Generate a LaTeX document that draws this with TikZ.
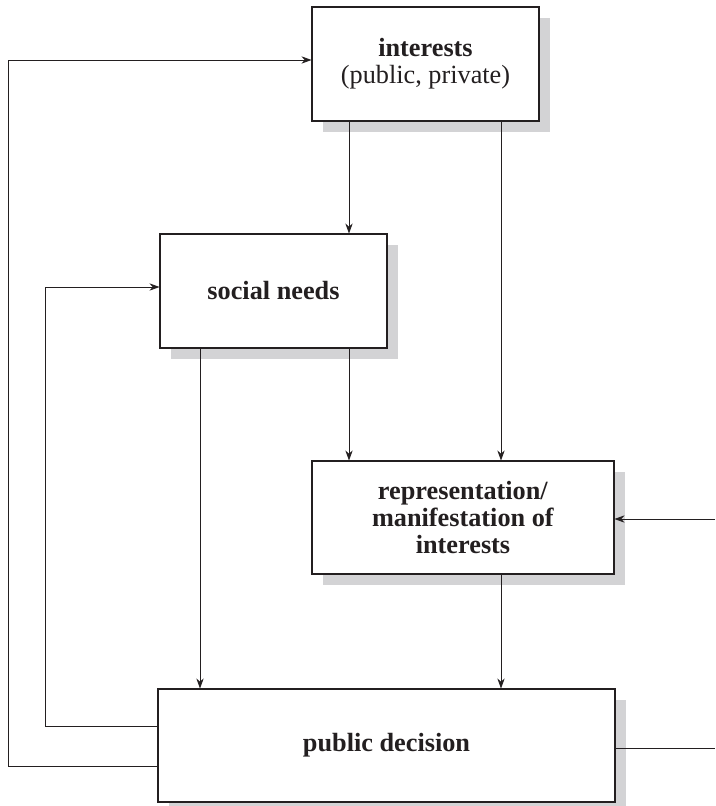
\documentclass[tikz,border=0pt]{standalone}
\usepackage{fontspec}
\setmainfont{Liberation Serif}
\usetikzlibrary{arrows.meta,shadows}
\definecolor{shade}{RGB}{211,211,213}
\definecolor{ink}{RGB}{35,31,32}
\begin{document}
\begin{tikzpicture}[x=0.75pt,y=-0.75pt,
  box/.style={draw=ink, line width=0.8pt, fill=white, align=center, text=ink,
    font=\fontsize{19.7}{20.5}\selectfont,
    general shadow={fill=shade, shadow xshift=8.25pt, shadow yshift=-8.25pt}},
  link/.style={draw=ink, line width=0.6pt},
  arr/.style={link, -{Stealth[length=7.5pt,width=5.5pt]}}]
\useasboundingbox (0,0) rectangle (715,806);

% boxes
\node[box, minimum width=170.25pt, minimum height=85.5pt] (interests) at (425.5,64)
  {\textbf{interests}\\(public, private)};
\node[box, minimum width=170.25pt, minimum height=85.5pt] (social) at (273.5,291)
  {\textbf{social needs}};
\node[box, minimum width=226.5pt, minimum height=84.75pt] (repr) at (463,517.5)
  {\textbf{representation/}\\\textbf{manifestation of}\\\textbf{interests}};
\node[box, minimum width=342.75pt, minimum height=84.75pt] (decision) at (386.5,745.5)
  {\textbf{public decision}};

% guide points for the connectors
\coordinate (colA) at (349,0);
\coordinate (colB) at (501,0);
\coordinate (colC) at (200,0);
\coordinate (outerlow) at (8,766);
\coordinate (outerhigh) at (8,60);
\coordinate (innerlow) at (45,726);
\coordinate (innerhigh) at (45,287);
\coordinate (inR) at (715,519);
\coordinate (outR) at (715,748);

% vertical flows
\draw[arr] (interests.south -| colA) -- (social.north -| colA);
\draw[arr] (interests.south -| colB) -- (repr.north -| colB);
\draw[arr] (social.south -| colA) -- (repr.north -| colA);
\draw[arr] (social.south -| colC) -- (decision.north -| colC);
\draw[arr] (repr.south -| colB) -- (decision.north -| colB);

% feedback loops
\draw[arr] (decision.west |- outerlow) -- (outerlow) -- (outerhigh) -- (interests.west |- outerhigh);
\draw[arr] (decision.west |- innerlow) -- (innerlow) -- (innerhigh) -- (social.west |- innerhigh);

% external input and output
\draw[arr] (inR) -- (repr.east |- inR);
\draw[link] (decision.east |- outR) -- (outR);
\end{tikzpicture}
\end{document}
